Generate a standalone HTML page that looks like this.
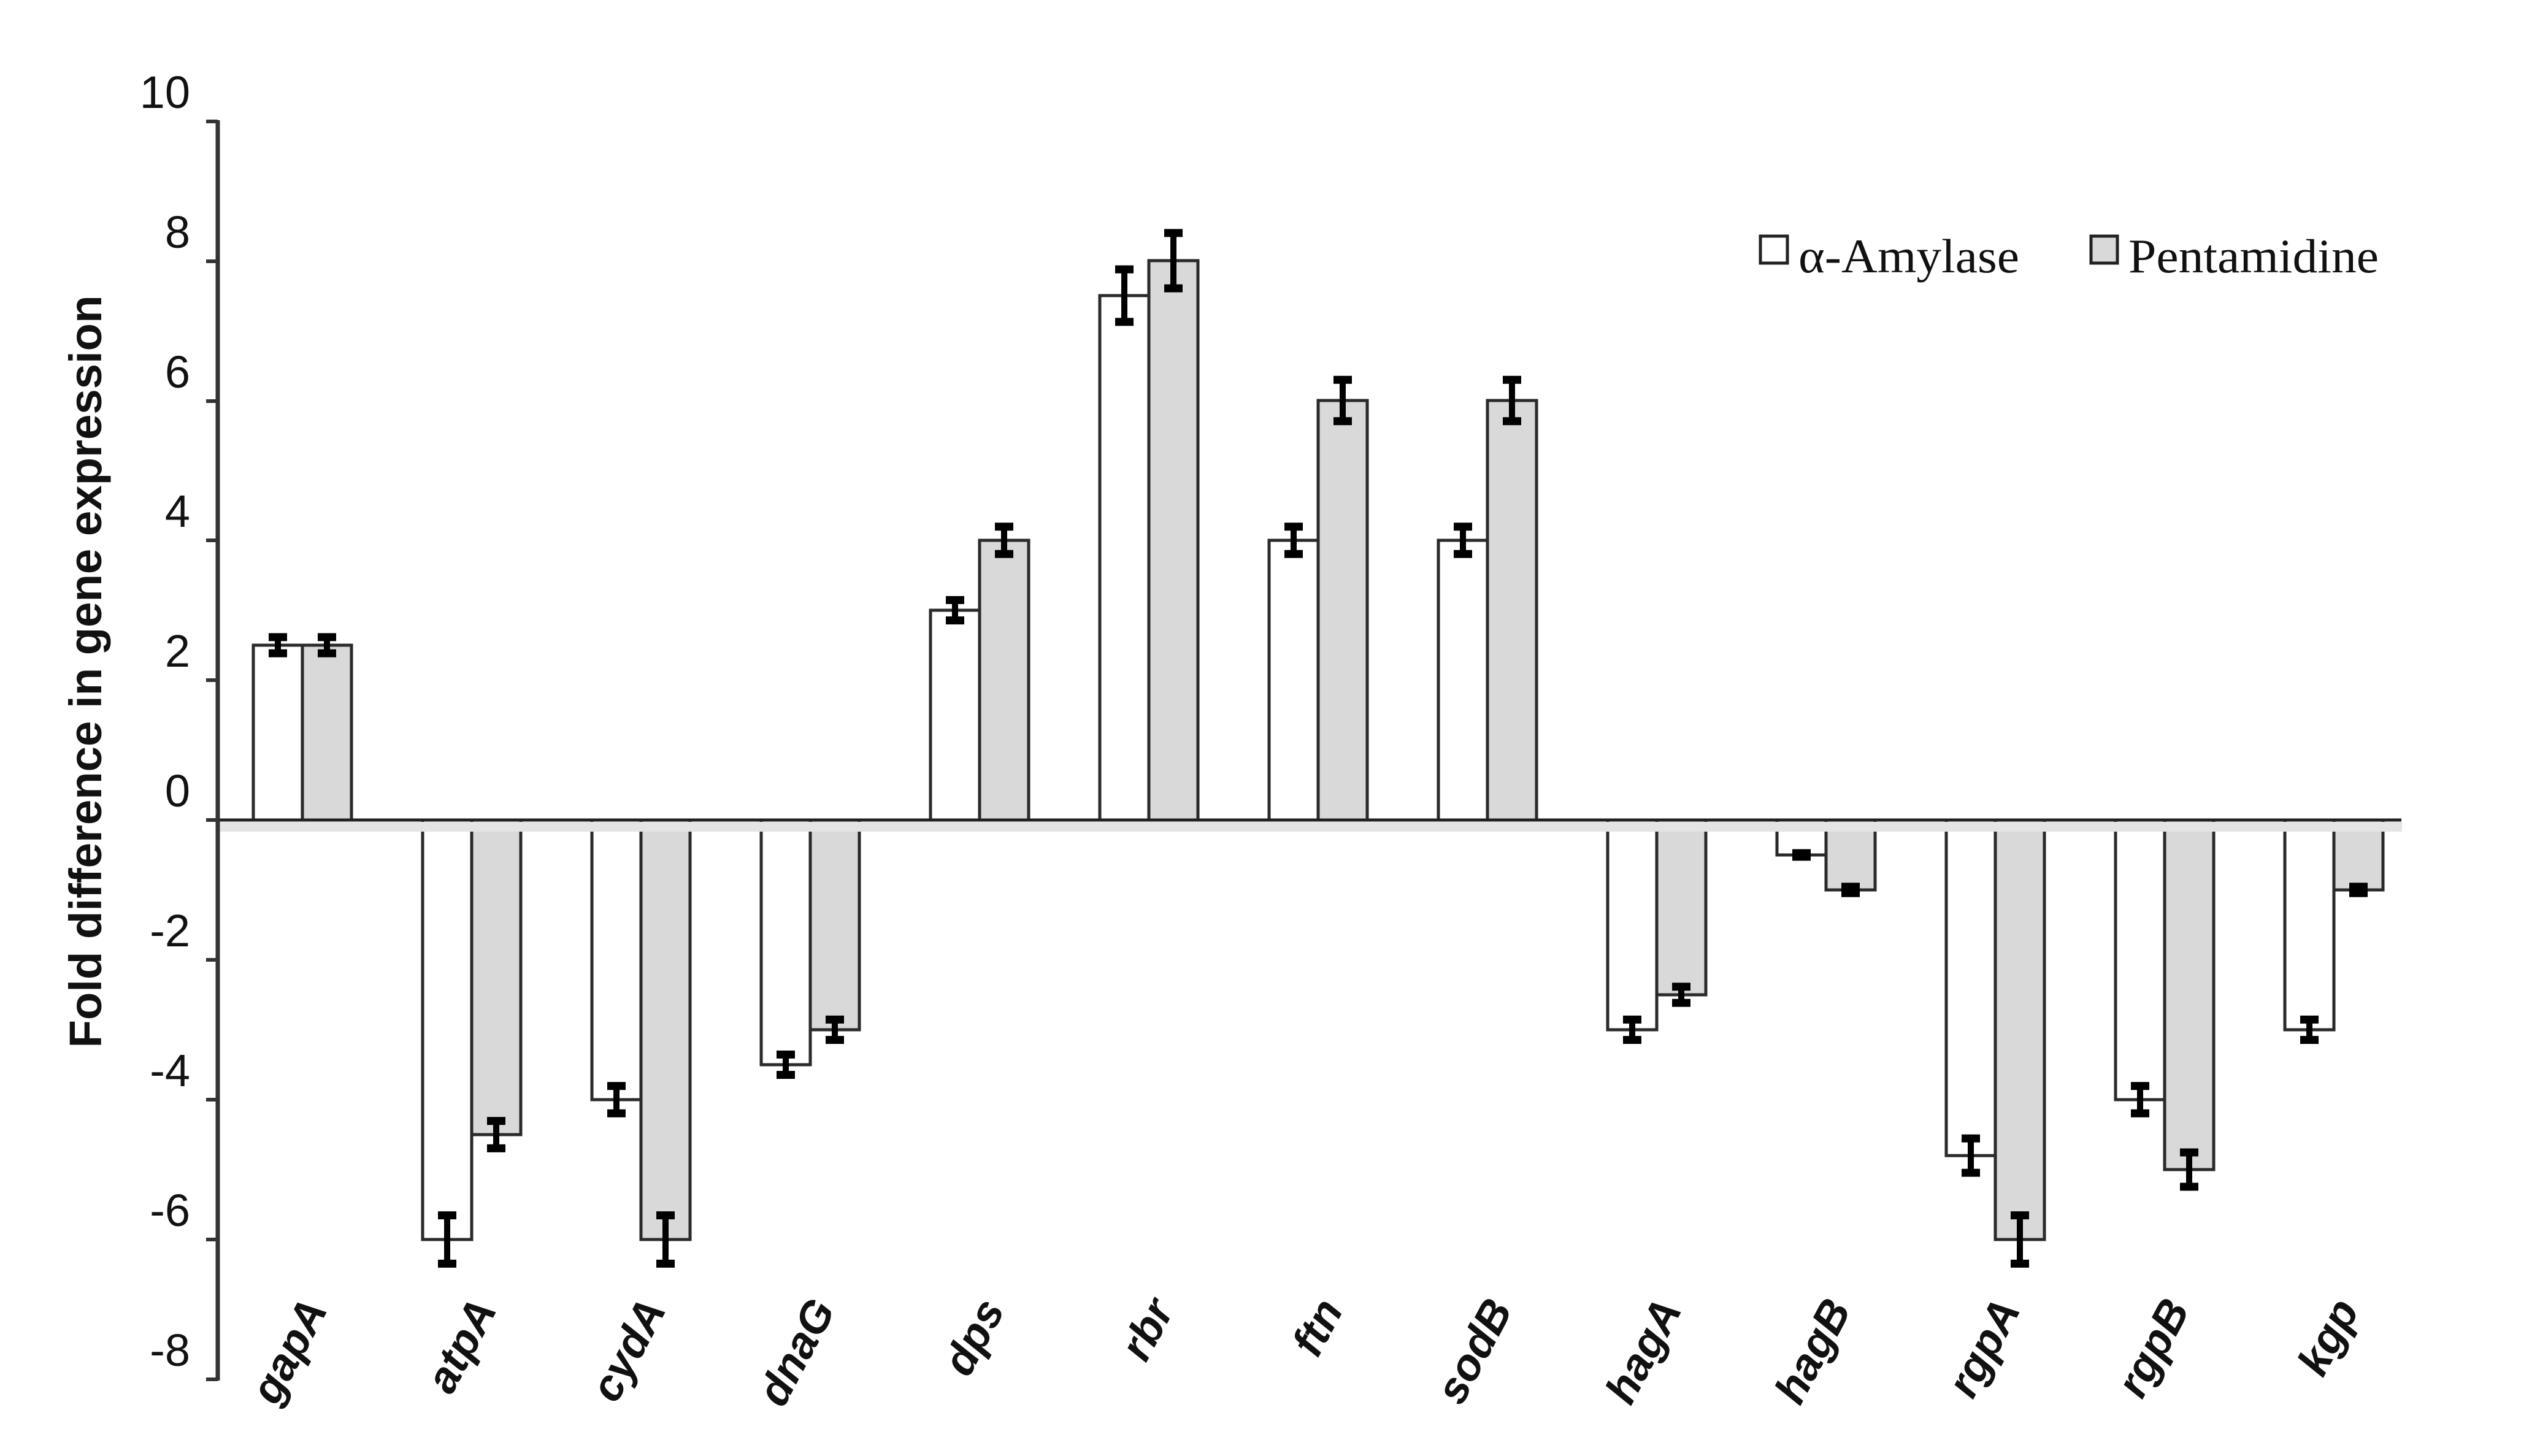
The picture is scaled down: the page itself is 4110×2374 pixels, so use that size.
<!DOCTYPE html>
<html><head><meta charset="utf-8"><style>html,body{margin:0;padding:0;background:#fff}svg{display:block}</style></head>
<body>
<svg id="s" width="4110" height="2374" viewBox="0 0 4110 2374" xmlns="http://www.w3.org/2000/svg">
<rect width="4110" height="2374" fill="#fff"/>
<g id="bars"></g>
<rect x="356" y="1340" width="3560" height="16" fill="#e4e4e4"/>
<line x1="355" y1="1337" x2="3915" y2="1337" stroke="#222" stroke-width="5"/>
<line x1="355" y1="196" x2="355" y2="2251" stroke="#333" stroke-width="7"/>
<g stroke="#333" stroke-width="6">
<line x1="336" y1="198" x2="355" y2="198"/><line x1="336" y1="426" x2="355" y2="426"/>
<line x1="336" y1="654" x2="355" y2="654"/><line x1="336" y1="881" x2="355" y2="881"/>
<line x1="336" y1="1109" x2="355" y2="1109"/><line x1="336" y1="1337" x2="355" y2="1337"/>
<line x1="336" y1="1565" x2="355" y2="1565"/><line x1="336" y1="1793" x2="355" y2="1793"/>
<line x1="336" y1="2021" x2="355" y2="2021"/><line x1="336" y1="2249" x2="355" y2="2249"/>
</g>
<g font-family="Liberation Sans, sans-serif" font-size="74" text-anchor="end" fill="#111">
<text x="310" y="176">10</text><text x="310" y="404">8</text><text x="310" y="632">6</text>
<text x="310" y="859">4</text><text x="310" y="1087">2</text><text x="310" y="1315">0</text>
<text x="310" y="1543">-2</text><text x="310" y="1771">-4</text><text x="310" y="1999">-6</text>
<text x="310" y="2227">-8</text>
</g>
<text transform="translate(165,1095) rotate(-90)" text-anchor="middle" font-family="Liberation Sans, sans-serif" font-weight="bold" font-size="74" textLength="1227" lengthAdjust="spacingAndGlyphs" fill="#111">Fold difference in gene expression</text>
<rect x="2870" y="385" width="44" height="44" fill="#fff" stroke="#222" stroke-width="5"/>
<text x="2932" y="444" font-family="Liberation Serif, serif" font-size="78" textLength="360" lengthAdjust="spacingAndGlyphs" fill="#111">α-Amylase</text>
<rect x="3409" y="385" width="43" height="44" fill="#d9d9d9" stroke="#222" stroke-width="5"/>
<text x="3470" y="444" font-family="Liberation Serif, serif" font-size="78" textLength="408" lengthAdjust="spacingAndGlyphs" fill="#111">Pentamidine</text>
<g id="labels" font-family="Liberation Sans, sans-serif" font-weight="bold" font-style="italic" font-size="72" fill="#111" text-anchor="end"></g>
</svg>
<script>
var d=[["gapA",2.5,.12,2.5,.12],["atpA",-6,.35,-4.5,.2],["cydA",-4,.2,-6,.35],["dnaG",-3.5,.15,-3,.15],["dps",3,.15,4,.2],["rbr",7.5,.38,8,.4],["ftn",4,.2,6,.3],["sodB",4,.2,6,.3],["hagA",-3,.15,-2.5,.12],["hagB",-.5,.03,-1,.05],["rgpA",-4.8,.25,-6,.35],["rgpB",-4,.2,-5,.25],["kgp",-3,.15,-1,.05]];
var Y=function(v){return 1337-114*v};var b="",l="";
d.forEach(function(r,i){var L=413+i*276;
[[L,r[1],r[2],"#fff"],[L+80,r[3],r[4],"#d9d9d9"]].forEach(function(q){
var y1=Y(q[1]),t=Math.min(y1,1337),h=Math.abs(y1-1337);
b+='<rect x="'+q[0]+'" y="'+t+'" width="80" height="'+h+'" fill="'+q[3]+'" stroke="#2a2a2a" stroke-width="5"/>';
var cx=q[0]+40,a=Y(q[1]+q[2]),c=Y(q[1]-q[2]);
b+='<line x1="'+cx+'" y1="'+a+'" x2="'+cx+'" y2="'+c+'" stroke="#000" stroke-width="10"/>';
b+='<rect x="'+(cx-15)+'" y="'+(a-6)+'" width="30" height="13" fill="#000"/><rect x="'+(cx-15)+'" y="'+(c-7)+'" width="30" height="13" fill="#000"/>';});
l+='<text transform="translate('+(L+122)+',2135) rotate(-62)">'+r[0]+'</text>';});
document.getElementById("bars").innerHTML=b;document.getElementById("labels").innerHTML=l;
</script>
</body></html>
